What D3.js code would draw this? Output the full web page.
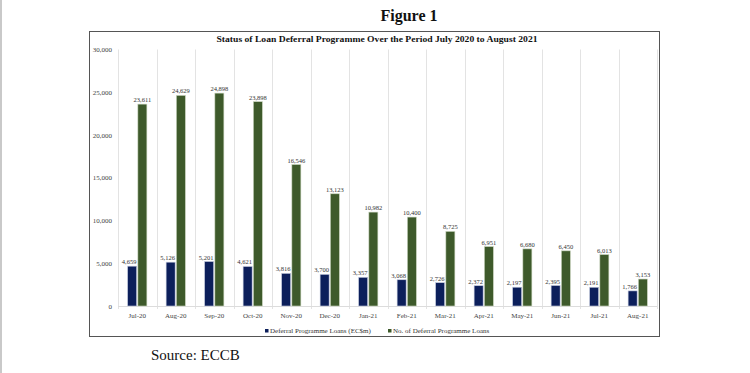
<!DOCTYPE html>
<html>
<head>
<meta charset="utf-8">
<script src="https://cdn.jsdelivr.net/npm/d3@7"></script>
<style>
  body { margin: 0; background: #fff; }
  svg { display: block; font-family: "Liberation Serif", "DejaVu Serif", serif; }
</style>
</head>
<body>
<svg id="chart" width="750" height="373"></svg>
<script>
const months = ['Jul-20','Aug-20','Sep-20','Oct-20','Nov-20','Dec-20','Jan-21','Feb-21','Mar-21','Apr-21','May-21','Jun-21','Jul-21','Aug-21']
const loansValue = [4659, 5126, 5201, 4621, 3816, 3700, 3357, 3068, 2726, 2372, 2197, 2395, 2191, 1766]
const loansCount = [23611, 24629, 24898, 23898, 16546, 13123, 10982, 10400, 8725, 6951, 6680, 6450, 6013, 3153]
const seriesNames = ['Deferral Programme Loans (EC$m)', 'No. of Deferral Programme Loans']
const yTicks = [0, 5000, 10000, 15000, 20000, 25000, 30000]
const colors = ['#0c1f5b', '#3e5a2b']

let svg = d3.select('#chart')

// page edge line on the left
svg.append('rect').attr('x', 0).attr('y', 0).attr('width', 2).attr('height', 373).attr('fill', '#c9c9c9')

svg.append('text')
    .attr('x', 409).attr('y', 21)
    .attr('text-anchor', 'middle')
    .attr('font-size', 16).attr('font-weight', 'bold')
    .attr('fill', '#111')
    .text('Figure 1')

// chart frame
svg.append('rect')
    .attr('x', 89.5).attr('y', 31.5)
    .attr('width', 570).attr('height', 305)
    .attr('fill', 'none').attr('stroke', '#555').attr('stroke-width', 1)

svg.append('text')
    .attr('x', 377).attr('y', 42)
    .attr('text-anchor', 'middle')
    .attr('font-size', 9).attr('font-weight', 'bold')
    .attr('fill', '#111')
    .attr('textLength', 321).attr('lengthAdjust', 'spacingAndGlyphs')
    .text('Status of Loan Deferral Programme Over the Period July 2020 to August 2021')

let x0 = d3.scaleBand()
    .domain(months)
    .range([118, 657])
    .paddingInner(0.5)
    .paddingOuter(0.25)

let x1 = d3.scaleBand()
    .domain([0, 1])
    .range([0, x0.bandwidth()])
    .paddingInner(0.12)

let y = d3.scaleLinear()
    .domain([0, 30000])
    .range([306, 49.5])

let step = x0.step()
let bounds = months.map((m) => x0(m) - step * 0.25).concat([x0(months[months.length - 1]) + x0.bandwidth() + step * 0.25])

// light vertical gridlines at category boundaries
svg.append('g').selectAll('line')
    .data(bounds)
    .join('line')
    .attr('x1', (d) => Math.round(d) + 0.5).attr('x2', (d) => Math.round(d) + 0.5)
    .attr('y1', y(30000)).attr('y2', y(0) + 3)
    .attr('stroke', '#e3e3e3').attr('stroke-width', 1)

// baseline
svg.append('line')
    .attr('x1', bounds[0]).attr('x2', bounds[bounds.length - 1])
    .attr('y1', y(0) + 0.5).attr('y2', y(0) + 0.5)
    .attr('stroke', '#dcdcdc')

// y tick labels
svg.append('g').selectAll('text')
    .data(yTicks)
    .join('text')
    .attr('x', 112).attr('y', (d) => y(d) + 2.5)
    .attr('text-anchor', 'end')
    .attr('font-size', 7).attr('fill', '#444')
    .text((d) => d3.format(',')(d))

// x labels
svg.append('g').selectAll('text')
    .data(months)
    .join('text')
    .attr('x', (d) => x0(d) + x0.bandwidth() / 2)
    .attr('y', 317.5)
    .attr('text-anchor', 'middle')
    .attr('font-size', 7).attr('fill', '#444')
    .text((d) => d)

const series = [loansValue, loansCount]
const labelShift = [-3, 0]   // blue labels sit a bit left so they clear the green bar
let barLayer = svg.append('g')
let labelLayer = svg.append('g')
series.forEach((vals, si) => {
    barLayer.append('g').selectAll('rect')
        .data(vals)
        .join('rect')
        .attr('x', (d, i) => x0(months[i]) + x1(si))
        .attr('y', (d) => y(d))
        .attr('width', x1.bandwidth())
        .attr('height', (d) => y(0) - y(d))
        .attr('fill', colors[si])
        .attr('stroke', si == 0 ? '#c7cde0' : '#cbd6c0')
        .attr('stroke-width', 0.6)
    labelLayer.append('g').selectAll('text')
        .data(vals)
        .join('text')
        .attr('x', (d, i) => x0(months[i]) + x1(si) + x1.bandwidth() / 2 + labelShift[si])
        .attr('y', (d) => y(d) - 2)
        .attr('text-anchor', 'middle')
        .attr('font-size', 6.5).attr('fill', '#333')
        .text((d) => d3.format(',')(d))
})

// legend
const legendX = [265, 388]
seriesNames.forEach((name, i) => {
    svg.append('rect')
        .attr('x', legendX[i]).attr('y', 329)
        .attr('width', 3.5).attr('height', 3.5)
        .attr('fill', colors[i])
    svg.append('text')
        .attr('x', legendX[i] + 5).attr('y', 333)
        .attr('font-size', 7).attr('fill', '#333')
        .text(name)
})

svg.append('text')
    .attr('x', 151).attr('y', 360)
    .attr('font-size', 15).attr('fill', '#111')
    .text('Source: ECCB')
</script>
</body>
</html>
